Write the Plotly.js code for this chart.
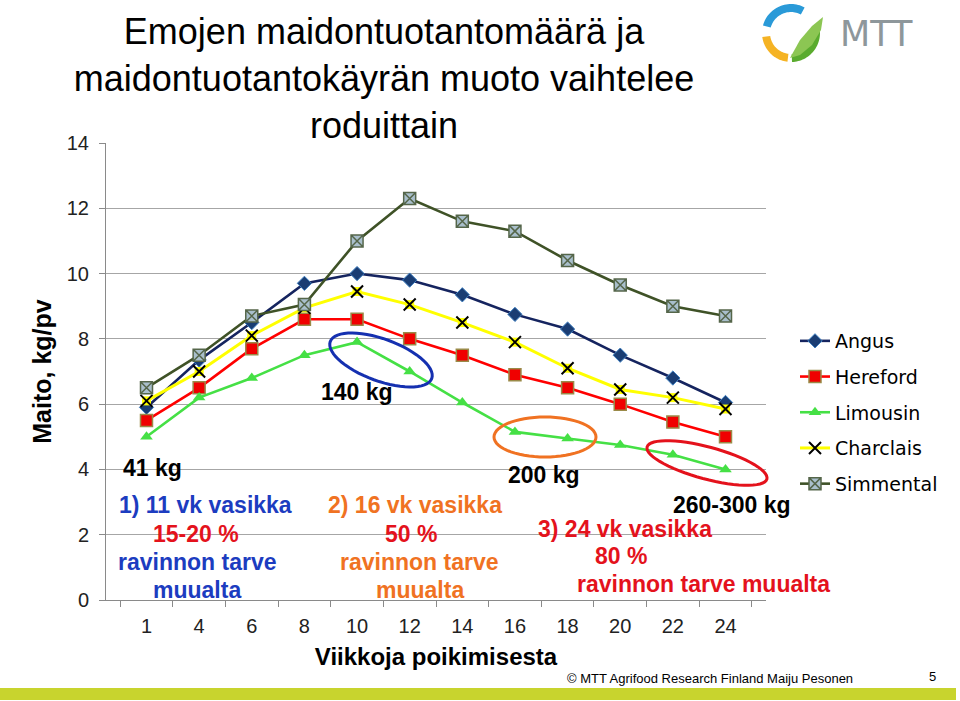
<!DOCTYPE html>
<html>
<head>
<meta charset="utf-8">
<script src="https://cdn.plot.ly/plotly-3.0.1.min.js"></script>
<style>html,body{margin:0;padding:0;background:#fff;}#chart{width:960px;height:701px;}</style>
</head>
<body>
<div id="chart"></div>
<script>
// ---- data ----
const weeks = ['1','4','6','8','10','12','14','16','18','20','22','24'];
const angus     = [5.9, 7.35, 8.5, 9.7, 10.0, 9.8, 9.35, 8.75, 8.3, 7.5, 6.8, 6.05];
const hereford  = [5.5, 6.5, 7.7, 8.6, 8.6, 8.0, 7.5, 6.9, 6.5, 6.0, 5.45, 5.0];
const limousin  = [5.0, 6.2, 6.8, 7.5, 7.9, 7.0, 6.05, 5.15, 4.95, 4.75, 4.45, 4.0];
const charolais = [6.1, 7.0, 8.1, 8.95, 9.45, 9.05, 8.5, 7.9, 7.1, 6.45, 6.2, 5.85];
const simmental = [6.5, 7.5, 8.7, 9.05, 11.0, 12.3, 11.6, 11.3, 10.4, 9.65, 9.0, 8.7];
const breedNames = ['Angus','Hereford','Limousin','Charclais','Simmental'];
const yTicks = [0,2,4,6,8,10,12,14];

// ---- geometry helpers (pixel -> paper) ----
const L=106, R=766, T=143, B=600;
const px = x => (x-L)/(R-L);
const py = y => (B-y)/(B-T);
function ellipsePath(cx, cy, a, b, deg){
  const phi = deg*Math.PI/180; let s='';
  for(let i=0;i<=60;i++){
    const t = i/60*2*Math.PI;
    const x = cx + a*Math.cos(t)*Math.cos(phi) - b*Math.sin(t)*Math.sin(phi);
    const y = cy + a*Math.cos(t)*Math.sin(phi) + b*Math.sin(t)*Math.cos(phi);
    s += (i===0?'M':'L') + px(x).toFixed(5) + ',' + py(y).toFixed(5);
  }
  return s + 'Z';
}
function arcPath(cx, cy, r1, r2, a0, a1){
  let s=''; const n=30;
  for(let i=0;i<=n;i++){const t=(a0+(a1-a0)*i/n)*Math.PI/180;
    s += (i===0?'M':'L') + px(cx+r2*Math.cos(t)).toFixed(5)+','+py(cy+r2*Math.sin(t)).toFixed(5);}
  for(let i=n;i>=0;i--){const t=(a0+(a1-a0)*i/n)*Math.PI/180;
    s += 'L' + px(cx+r1*Math.cos(t)).toFixed(5)+','+py(cy+r1*Math.sin(t)).toFixed(5);}
  return s+'Z';
}
function pathPx(pts){ return pts.map((p,i)=>(i===0?'M':'L')+px(p[0]).toFixed(5)+','+py(p[1]).toFixed(5)).join('')+'Z'; }

const lw = 2.6;
const traces = [
  {x:weeks, y:angus, name:breedNames[0], mode:'lines+markers', legendgroup:'a',
   line:{color:'#15245f', width:lw}, marker:{symbol:'diamond', size:11, color:'#1a3d73', line:{color:'#3f7fc0', width:1}}},
  {x:weeks, y:hereford, name:breedNames[1], mode:'lines+markers', legendgroup:'h',
   line:{color:'#ff0000', width:lw}, marker:{symbol:'square', size:12, color:'#f00000', line:{color:'#9a8a48', width:1.5}}},
  {x:weeks, y:limousin, name:breedNames[2], mode:'lines+markers', legendgroup:'l',
   line:{color:'#45e045', width:lw}, marker:{symbol:'triangle-up', size:11, color:'#45e045'}},
  {x:weeks, y:charolais, name:'bg', mode:'markers', showlegend:false, legendgroup:'c', hoverinfo:'skip',
   marker:{symbol:'square', size:9, color:'#ffff00'}},
  {x:weeks, y:charolais, name:breedNames[3], mode:'lines+markers', legendgroup:'c',
   line:{color:'#ffff00', width:3}, marker:{symbol:'x-thin', size:12, color:'#000', line:{color:'#000', width:2}}},
  {x:weeks, y:simmental, name:breedNames[4], mode:'lines+markers', legendgroup:'s',
   line:{color:'#3f5227', width:lw}, marker:{symbol:'square-x', size:12, color:'#a9bfcc', line:{color:'#55664a', width:1.5}}}
];

const blue='#1c3cc0', orange='#f07222', red='#e4121c';
function ann(text, x, y, color, size){
  return {text:'<b>'+text+'</b>', xref:'paper', yref:'paper', x:px(x), y:py(y), xanchor:'center', yanchor:'middle',
          showarrow:false, font:{family:'Liberation Sans', size:size||23, color:color||'#000'}};
}
const annotations = [
  ann('41 kg',152,468), ann('140 kg',357,392), ann('200 kg',544,475), ann('260-300 kg',732,505),
  ann('1) 11 vk vasikka',205,505,blue), ann('15-20 %',196,534,red), ann('ravinnon tarve',197,562,blue), ann('muualta',197,590,blue),
  ann('2) 16 vk vasikka',415,505,orange), ann('50 %',411,534,red), ann('ravinnon tarve',419,562,orange), ann('muualta',420,590,orange),
  ann('3) 24 vk vasikka',625,529,red), ann('80 %',621,556,red), ann('ravinnon tarve muualta',703,584,red),
  {text:'© MTT Agrifood Research Finland Maiju Pesonen', xref:'paper', yref:'paper', x:px(710), y:py(678), xanchor:'center', yanchor:'middle',
   showarrow:false, font:{family:'Liberation Sans', size:13, color:'#000'}},
  {text:'5', xref:'paper', yref:'paper', x:px(932), y:py(676), xanchor:'center', yanchor:'middle',
   showarrow:false, font:{family:'Liberation Sans', size:13, color:'#000'}},
  {text:'MTT', xref:'paper', yref:'paper', x:px(876), y:py(34), xanchor:'center', yanchor:'middle',
   showarrow:false, font:{family:'DejaVu Sans', size:35, color:'#8e979b'}}
];

const shapes = [
  {type:'path', xref:'paper', yref:'paper', path:ellipsePath(381,360,54,21,20), line:{color:'#1530b0', width:3}},
  {type:'path', xref:'paper', yref:'paper', path:ellipsePath(545,437,51,20,0), line:{color:'#f07222', width:3}},
  {type:'path', xref:'paper', yref:'paper', path:ellipsePath(707,463,62,16,15), line:{color:'#e4121c', width:3}},
  {type:'rect', xref:'paper', yref:'paper', x0:px(0), x1:px(956), y0:py(688), y1:py(700), fillcolor:'#c8d42e', line:{width:0}},
  // logo
  {type:'path', xref:'paper', yref:'paper', path:arcPath(791,33,21,29,-165,-62), fillcolor:'#2a9ad8', line:{width:0}},
  {type:'path', xref:'paper', yref:'paper', path:arcPath(791,33,21,29,172,97), fillcolor:'#f5b324', line:{width:0}},
  {type:'path', xref:'paper', yref:'paper', path:arcPath(791,33,21,29,88,-5), fillcolor:'#5aab2e', line:{width:0}},
  {type:'path', xref:'paper', yref:'paper', path:pathPx([[790,58],[800,40],[812,26],[823,17],[821,30],[812,45],[800,55]]), fillcolor:'#8cc653', line:{width:0}}
];

const layout = {
  width:960, height:701,
  margin:{l:L, r:960-R, t:T, b:701-B, pad:0},
  paper_bgcolor:'#fff', plot_bgcolor:'#fff',
  font:{family:'Liberation Sans', color:'#000'},
  title:{text:'Emojen maidontuotantomäärä ja<br>maidontuotantokäyrän muoto vaihtelee<br>roduittain',
         font:{family:'Liberation Sans', size:36, color:'#000'},
         xref:'container', x:384/960, xanchor:'center', yref:'container', y:1-44/701, yanchor:'top'},
  xaxis:{type:'category', categoryorder:'array', categoryarray:weeks, tickson:'boundaries', ticks:'outside', ticklen:6,
         tickcolor:'#8a8a8a', showline:true, linecolor:'#8a8a8a', linewidth:1, showgrid:false, zeroline:false,
         tickfont:{family:'Liberation Sans', size:20, color:'#222'}, ticklabelstandoff:8,
         title:{text:'<b>Viikkoja poikimisesta</b>', font:{family:'Liberation Sans', size:24, color:'#000'}, standoff:12}},
  yaxis:{range:[0,14], tickvals:yTicks, ticks:'outside', ticklen:6, tickcolor:'#8a8a8a', showline:true, linecolor:'#8a8a8a',
         showgrid:true, gridcolor:'#a6a6a6', gridwidth:1, zeroline:false,
         tickfont:{family:'Liberation Sans', size:20, color:'#222'}, ticklabelstandoff:6,
         title:{text:'<b>Maito, kg/pv</b>', font:{family:'Liberation Sans', size:25, color:'#000'}, standoff:8}},
  legend:{x:px(795), xanchor:'left', y:py(322), yanchor:'top', bgcolor:'rgba(0,0,0,0)', borderwidth:0,
          font:{family:'DejaVu Sans', size:19, color:'#000'}, tracegroupgap:8, itemwidth:30, traceorder:'grouped'},
  showlegend:true,
  annotations:annotations,
  shapes:shapes
};

Plotly.newPlot('chart', traces, layout, {staticPlot:true, displayModeBar:false});
</script>
</body>
</html>
